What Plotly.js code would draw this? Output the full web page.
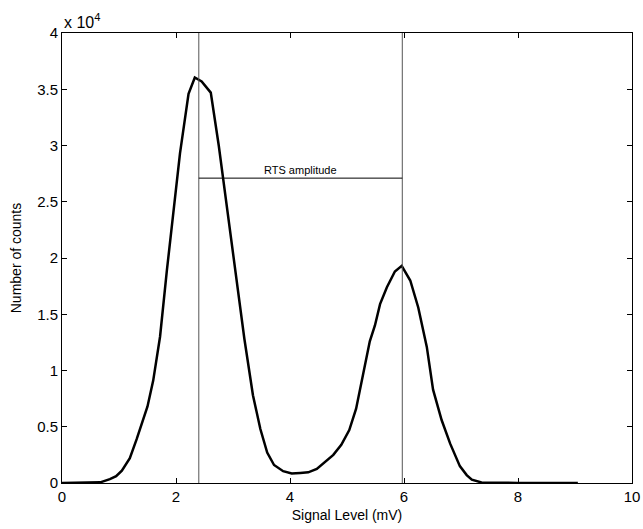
<!DOCTYPE html>
<html>
<head>
<meta charset="utf-8">
<script src="https://cdn.plot.ly/plotly-3.0.1.min.js"></script>
<style>html,body{margin:0;padding:0;background:#fff;}#chart{width:643px;height:529px;}</style>
</head>
<body>
<div id="chart"></div>
<script>
// Signal level (mV)
const signalLevel = [0, 0.5, 0.67, 0.84, 0.95, 1.05, 1.19, 1.31, 1.40, 1.50, 1.60, 1.72, 1.84, 1.95, 2.07, 2.22, 2.33, 2.45, 2.61, 2.75, 2.90, 3.05, 3.20, 3.35, 3.48, 3.60, 3.72, 3.88, 4.03, 4.18, 4.32, 4.47, 4.62, 4.76, 4.90, 5.04, 5.16, 5.28, 5.40, 5.49, 5.58, 5.70, 5.84, 5.96, 6.11, 6.25, 6.40, 6.51, 6.66, 6.81, 6.98, 7.10, 7.19, 7.36, 7.60, 8.00, 8.50, 9.05];
// Number of counts
const counts = [0, 0, 60, 350, 600, 1100, 2200, 3900, 5200, 6800, 9100, 13000, 18900, 24000, 29300, 34600, 36050, 35700, 34700, 30000, 24200, 18500, 12800, 7800, 4800, 2700, 1600, 1050, 850, 900, 950, 1250, 1900, 2500, 3400, 4700, 6600, 9500, 12600, 14000, 15900, 17400, 18800, 19300, 18000, 15600, 12100, 8300, 5600, 3500, 1500, 700, 300, 50, 20, 10, 5, 0];

const peakLow = 2.4;
const peakHigh = 5.97;
const rtsLevel = 27100;
const rtsLabel = "RTS amplitude";

const yTickVals = [0, 5000, 10000, 15000, 20000, 25000, 30000, 35000, 40000];
const yTickText = ["0", "0.5", "1", "1.5", "2", "2.5", "3", "3.5", "4"];
const xTickVals = [0, 2, 4, 6, 8, 10];

const font = "Liberation Sans, Arial, Helvetica, sans-serif";

const trace = {
  x: signalLevel, y: counts, type: "scatter", mode: "lines",
  line: {color: "#000", width: 2.5}, hoverinfo: "skip"
};

const axisCommon = {
  showgrid: false, zeroline: false, showline: true, linecolor: "#000", linewidth: 1,
  mirror: "ticks", ticks: "inside", ticklen: 5, tickcolor: "#000",
  tickfont: {family: font, size: 15, color: "#000"}
};

const layout = {
  width: 643, height: 529,
  margin: {l: 62, r: 11, t: 33, b: 46},
  paper_bgcolor: "#fff", plot_bgcolor: "#fff",
  showlegend: false,
  font: {family: font, color: "#000"},
  xaxis: Object.assign({}, axisCommon, {
    range: [0, 10], tickvals: xTickVals,
    title: {text: "Signal Level (mV)", font: {family: font, size: 14, color: "#000"}, standoff: 6}
  }),
  yaxis: Object.assign({}, axisCommon, {
    range: [0, 40000], tickvals: yTickVals, ticktext: yTickText,
    title: {text: "Number of counts", font: {family: font, size: 14, color: "#000"}, standoff: 12}
  }),
  shapes: [
    {type: "line", xref: "x", yref: "paper", x0: peakLow, x1: peakLow, y0: 0, y1: 1, line: {color: "#555", width: 1}},
    {type: "line", xref: "x", yref: "paper", x0: peakHigh, x1: peakHigh, y0: 0, y1: 1, line: {color: "#555", width: 1}},
    {type: "line", xref: "x", yref: "y", x0: peakLow, x1: peakHigh, y0: rtsLevel, y1: rtsLevel, line: {color: "#000", width: 1}}
  ],
  annotations: [
    {x: 4.18, y: rtsLevel, xref: "x", yref: "y", text: rtsLabel, showarrow: false, yanchor: "bottom", yshift: 0,
     font: {family: font, size: 11, color: "#000"}},
    {x: 0, y: 1, xref: "paper", yref: "paper", text: "x 10<sup>4</sup>", showarrow: false, xanchor: "left", yanchor: "bottom", yshift: 0,
     font: {family: font, size: 16, color: "#000"}}
  ]
};

Plotly.newPlot("chart", [trace], layout, {displayModeBar: false, staticPlot: true});
</script>
</body>
</html>
